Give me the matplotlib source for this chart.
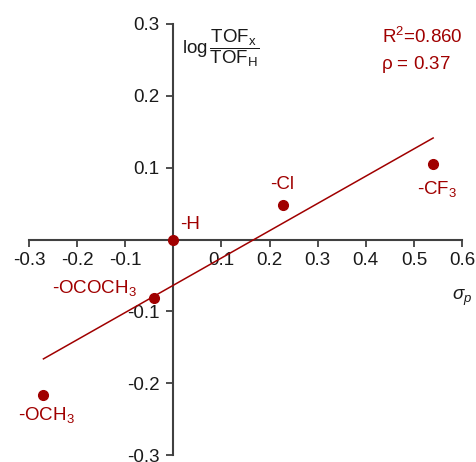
import numpy as np
import matplotlib
matplotlib.use("Agg")
import matplotlib.pyplot as plt

# Hammett plot: substituent constant vs. relative TOF
plt.rcParams['font.family'] = ['Liberation Sans', 'DejaVu Sans']
plt.rcParams['mathtext.fontset'] = 'custom'
plt.rcParams['mathtext.rm'] = 'Liberation Sans'
plt.rcParams['mathtext.it'] = 'Liberation Sans:italic'
plt.rcParams['mathtext.default'] = 'regular'

substituents = ['-OCH$_3$', '-OCOCH$_3$', '-H', '-Cl', '-CF$_3$']
sigma_p = [-0.27, -0.04, 0.0, 0.227, 0.54]
log_tof = [-0.217, -0.081, 0.0, 0.048, 0.105]
r_squared = 0.860
rho = 0.37

# label anchors (data coords, baseline-centred)
label_x = [-0.264, -0.164, 0.034, 0.226, 0.548]
label_y = [-0.251, -0.0745, 0.015, 0.07, 0.063]

red = '#A00000'
axcol = '#404040'
fs = 13.5

fig = plt.figure(figsize=(4.76, 4.62), dpi=100)
ax = fig.add_axes([29 / 476, 7 / 462, 433 / 476, 431 / 462])
ax.set_xlim(-0.3, 0.6)
ax.set_ylim(-0.3, 0.3)

# axes crossing at the origin
for side in ['top', 'right']:
    ax.spines[side].set_visible(False)
ax.spines['left'].set_position(('data', 0))
ax.spines['bottom'].set_position(('data', 0))
for side in ['left', 'bottom']:
    ax.spines[side].set_color(axcol)
    ax.spines[side].set_linewidth(1.5)

ax.set_xticks([-0.3, -0.2, -0.1, 0.1, 0.2, 0.3, 0.4, 0.5, 0.6])
ax.set_yticks([-0.3, -0.2, -0.1, 0.1, 0.2, 0.3])
ax.xaxis.set_major_formatter(plt.FuncFormatter(lambda v, p: f'{v:.1f}'))
ax.yaxis.set_major_formatter(plt.FuncFormatter(lambda v, p: f'{v:.1f}'))
ax.tick_params(axis='both', direction='out', length=5, width=1.3,
               color=axcol, labelsize=fs, labelcolor='#1a1a1a')
ax.tick_params(axis='x', pad=4)
ax.tick_params(axis='y', pad=5)

# linear fit
slope, intercept = np.polyfit(sigma_p, log_tof, 1)
xf = np.array([min(sigma_p), max(sigma_p)])
ax.plot(xf, slope * xf + intercept, color=red, lw=1.1, zorder=3)

ax.plot(sigma_p, log_tof, 'o', color=red, ms=7, zorder=4, clip_on=False)

for name, lx, ly in zip(substituents, label_x, label_y):
    ax.text(lx, ly, name, color=red, fontsize=fs, ha='center', va='baseline')

ax.text(0.4345, 0.274, f'R$^2$={r_squared:.3f}', color=red, fontsize=fs,
        ha='left', va='baseline')
ax.text(0.432, 0.237, f'$\\rho$ = {rho:.2f}', color=red, fontsize=fs,
        ha='left', va='baseline')

ax.text(0.019, 0.266, r'log$\,\dfrac{TOF_x}{TOF_H}$', color='#1a1a1a',
        fontsize=fs, ha='left', va='center')
ax.text(0.600, -0.084, r'$\mathit{\sigma_p}$', color='#1a1a1a', fontsize=fs,
        ha='center', va='baseline')

fig.savefig('out.png', dpi=100)
